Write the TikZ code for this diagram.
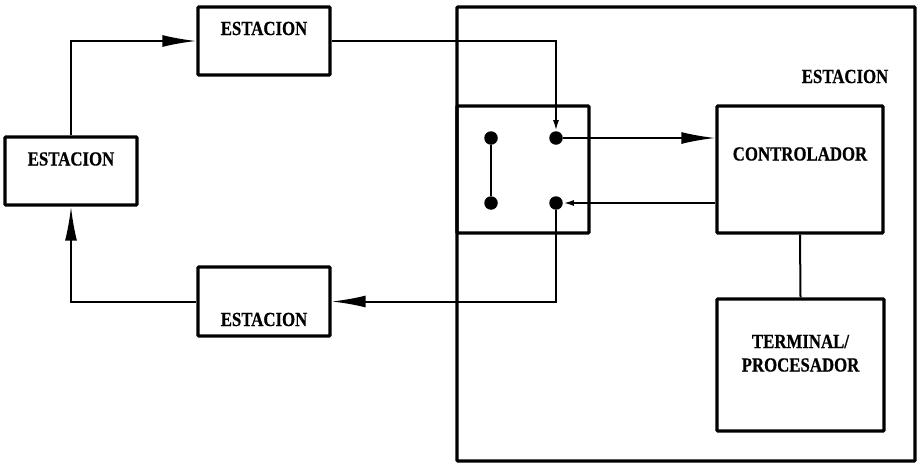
\documentclass[tikz,border=0pt]{standalone}
\usepackage{fontspec}
\newfontfamily\labfont[FakeStretch=0.84,FakeBold=0.6]{Liberation Serif}
\usetikzlibrary{arrows.meta}
\tikzset{
  box/.style={draw, line width=3.3pt, inner sep=0pt, rounded corners=1pt},
  lab/.style={font=\labfont\bfseries\fontsize{20}{22}\selectfont, inner sep=0pt, anchor=base},
  conn/.style={line width=2pt},
  big/.style={-{Latex[length=34pt,width=12pt]}},
  small/.style={-{Latex[length=11pt,width=6pt]}},
  dot/.style={circle, fill=black, inner sep=0pt, minimum size=13.5pt}
}
\begin{document}
\begin{tikzpicture}[x=1pt,y=-1pt]
\useasboundingbox (0,0) rectangle (920,463);
% boxes
\node[box, minimum width=132pt, minimum height=68pt] (ltop) at (264,41) {};
\node[box, minimum width=132pt, minimum height=68pt] (lleft) at (71,171) {};
\node[box, minimum width=132pt, minimum height=69pt] (lbot) at (264,301.5) {};
\node[box, minimum width=458pt, minimum height=454pt] (bigbox) at (686,234) {};
\node[box, minimum width=132pt, minimum height=127pt] (sw) at (523,169.5) {};
\node[box, minimum width=166pt, minimum height=127pt] (ctrl) at (800,169.5) {};
\node[box, minimum width=167pt, minimum height=132pt] (term) at (800.5,365) {};
% labels
\node[lab] (ttop) at (264,35) {ESTACION};
\node[lab] (tleft) at (71,165.5) {ESTACION};
\node[lab] (tbot) at (264,326) {ESTACION};
\node[lab] (tbig) at (845,83) {ESTACION};
\node[lab] (tctrl) at (800,160.5) {CONTROLADOR};
\node[lab] (tterm1) at (800.5,348) {TERMINAL/};
\node[lab] (tterm2) at (800.5,371.5) {PROCESADOR};
% dots
\node[dot] (d1) at (491,138) {};
\node[dot] (d2) at (556,138) {};
\node[dot] (d3) at (491,203) {};
\node[dot] (d4) at (556,203) {};
% connectors
\draw[conn] (d1) -- (d3);
\draw[conn, big] (lleft.north) |- (ltop.west);
\draw[conn, small] (ltop.east) -| (d2.north);
\draw[conn, big] (d2.east) -- (d2 -| ctrl.west);
\draw[conn, small] (ctrl.west |- d4) -- (d4.east);
\draw[conn, big] (d4.south) |- (lbot.east);
\draw[conn, big] (lbot.west) -| (lleft.south);
\draw[conn] (ctrl.south) -- (term.north);
\end{tikzpicture}
\end{document}
